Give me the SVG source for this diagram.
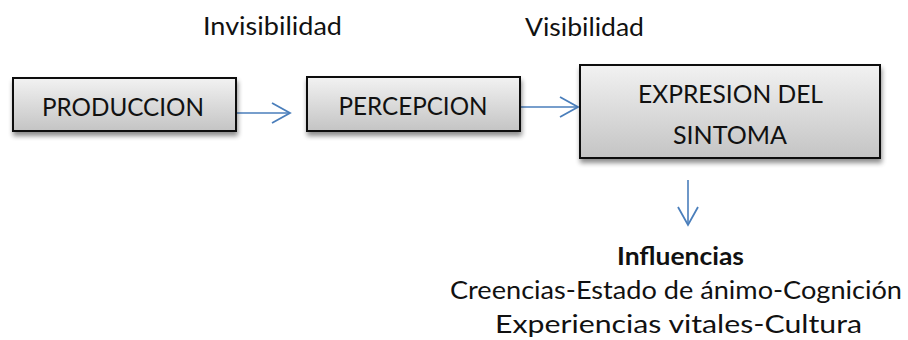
<svg xmlns="http://www.w3.org/2000/svg" width="908" height="340" viewBox="0 0 908 340">
<style>
  .t { font-family: Lato, "Open Sans", "Liberation Sans", sans-serif; font-size: 25.5px; fill: #111; }
  .b { font-weight: bold; }
  .box { fill: url(#g); stroke: #111; stroke-width: 2; filter: url(#sh); }
  .c { fill: none; stroke: #4a7ebb; stroke-width: 1.6; marker-end: url(#ah); }
</style>
<defs>
  <linearGradient id="g" x1="0" y1="0" x2="0" y2="1">
    <stop offset="0" stop-color="#f2f2f2"/>
    <stop offset="1" stop-color="#c4c4c4"/>
  </linearGradient>
  <filter id="sh" x="-10%" y="-20%" width="125%" height="150%">
    <feGaussianBlur in="SourceAlpha" stdDeviation="2.5"/>
    <feOffset dx="1" dy="4" result="o"/>
    <feComponentTransfer><feFuncA type="linear" slope="0.45"/></feComponentTransfer>
    <feMerge><feMergeNode/><feMergeNode in="SourceGraphic"/></feMerge>
  </filter>
  <marker id="ah" markerUnits="userSpaceOnUse" markerWidth="24" markerHeight="24" viewBox="-20 -12 24 24" refX="0" refY="0" orient="auto">
    <polyline points="-18,-10 0,0 -18,10" fill="none" stroke="#4a7ebb" stroke-width="1.8"/>
  </marker>
</defs>

<text class="t" x="272.5" y="35" text-anchor="middle" textLength="139" lengthAdjust="spacingAndGlyphs">Invisibilidad</text>
<text class="t" x="584.5" y="36" text-anchor="middle" textLength="119" lengthAdjust="spacingAndGlyphs">Visibilidad</text>

<g id="connectors">
  <line class="c" x1="236" y1="113" x2="290" y2="113"/>
  <line class="c" x1="521" y1="107" x2="578" y2="107"/>
  <line class="c" x1="688" y1="180" x2="688" y2="225"/>
</g>

<g id="produccion">
  <rect class="box" x="13" y="78" width="223" height="53"/>
  <text class="t" x="123" y="116" text-anchor="middle" textLength="162" lengthAdjust="spacingAndGlyphs">PRODUCCION</text>
</g>
<g id="percepcion">
  <rect class="box" x="307" y="77" width="213" height="54"/>
  <text class="t" x="413" y="115" text-anchor="middle" textLength="149" lengthAdjust="spacingAndGlyphs">PERCEPCION</text>
</g>
<g id="expresion">
  <rect class="box" x="580" y="65" width="300" height="93"/>
  <text class="t" x="730.5" y="103" text-anchor="middle" textLength="185" lengthAdjust="spacingAndGlyphs">EXPRESION DEL</text>
  <text class="t" x="730" y="144" text-anchor="middle" textLength="114" lengthAdjust="spacingAndGlyphs">SINTOMA</text>
</g>
<g id="influencias">
  <text class="t b" x="680.5" y="265" text-anchor="middle" textLength="127" lengthAdjust="spacingAndGlyphs">Influencias</text>
  <text class="t" x="676" y="299" text-anchor="middle" textLength="452" lengthAdjust="spacingAndGlyphs">Creencias-Estado de ánimo-Cognición</text>
  <text class="t" x="678.5" y="333" text-anchor="middle" textLength="367" lengthAdjust="spacingAndGlyphs">Experiencias vitales-Cultura</text>
</g>
</svg>
